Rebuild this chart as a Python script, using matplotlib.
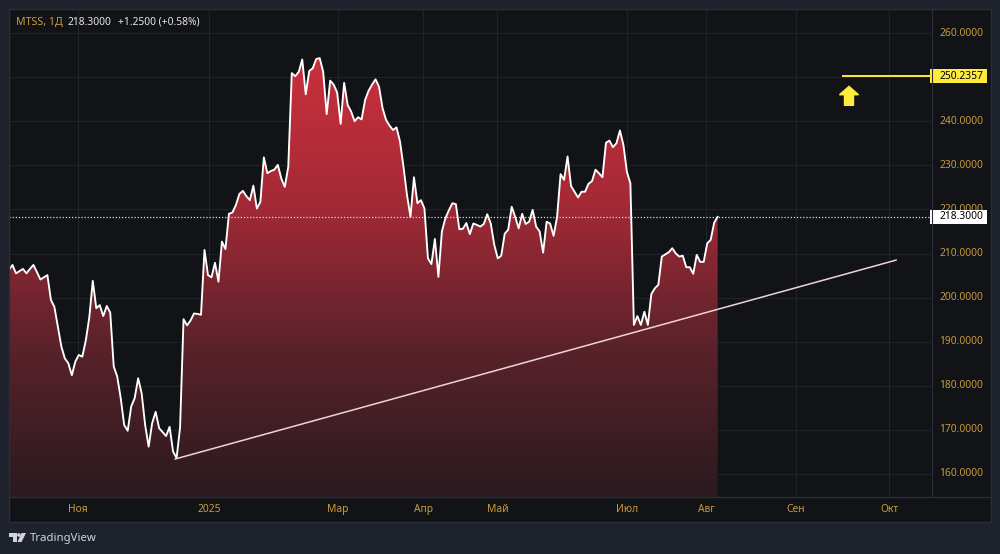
import numpy as np
import matplotlib
matplotlib.use("Agg")
import matplotlib.pyplot as plt
from matplotlib.colors import LinearSegmentedColormap
from matplotlib.patches import Rectangle, Polygon, Circle, FancyArrow

# ---------------- data (daily closes) ----------------
close = [
    206.3, 207.4, 205.5, 206.0, 206.5, 205.5, 206.5, 207.4, 205.8, 204.1,
    204.6, 205.1, 199.5, 197.9, 193.4, 188.9, 186.2, 185.1, 182.4, 185.5,
    187.0, 186.6, 190.3, 195.5, 203.8, 197.6, 198.3, 195.8, 198.1, 196.6,
    184.4, 182.1, 177.2, 171.1, 169.8, 175.3, 177.2, 181.7, 178.3, 171.1,
    166.2, 171.5, 174.1, 170.4, 169.5, 168.6, 170.7, 165.1, 163.6, 170.5,
    195.1, 193.7, 194.8, 196.4, 196.3, 196.1, 210.8, 205.1, 204.6, 207.9,
    203.6, 212.7, 211.0, 219.0, 219.3, 221.0, 223.5, 224.2, 223.0, 222.1,
    225.4, 220.2, 221.7, 231.8, 228.2, 228.7, 229.0, 230.1, 227.0, 225.1,
    229.7, 250.9, 250.2, 251.2, 254.0, 246.1, 251.4, 252.0, 254.1, 254.3,
    251.2, 241.6, 249.2, 248.3, 246.5, 239.4, 248.7, 243.7, 242.2, 240.0,
    240.9, 240.4, 244.8, 246.9, 248.3, 249.5, 247.8, 243.0, 240.3, 239.0,
    238.0, 238.6, 235.4, 229.7, 223.3, 218.3, 227.3, 221.4, 222.1, 220.2,
    208.9, 207.6, 213.3, 204.7, 215.0, 218.0, 219.8, 221.4, 221.2, 215.5,
    215.6, 216.9, 214.4, 216.8, 216.5, 216.1, 216.7, 218.9, 216.8, 212.0,
    208.9, 209.5, 214.5, 215.4, 220.6, 218.3, 215.7, 219.0, 216.7, 217.2,
    219.9, 216.1, 215.0, 210.2, 217.2, 216.8, 214.0, 218.3, 228.0, 226.7,
    232.0, 225.3, 224.0, 222.7, 224.0, 224.0, 225.8, 226.4, 229.0, 228.2,
    227.3, 235.1, 235.6, 234.1, 235.0, 237.9, 234.6, 228.5, 225.9, 193.8,
    195.8, 193.8, 196.8, 193.8, 200.8, 202.1, 202.9, 209.3, 209.8, 210.3,
    211.2, 210.0, 209.3, 209.5, 206.9, 206.9, 205.4, 209.7, 208.1, 208.1,
    212.3, 213.1, 217.0, 218.3,
]
tick_bars = [19.8, 57.3, 94.2, 118.6, 139.9, 177.0, 199.7, 225.4, 252.1]
tick_labels = ["Ноя", "2025", "Мар", "Апр", "Май", "Июл", "Авг", "Сен", "Окт"]
price_ticks = [160, 170, 180, 190, 200, 210, 220, 230, 240, 250, 260]
last_price = 218.3
target_price = 250.2357
trend_bars = [47.6, 254.1]
trend_vals = [163.4, 208.5]
target_line_bars = [239.0, 264.4]
header_symbol = "MTSS, 1Д"
header_last = "218.3000"
header_change = "+1.2500 (+0.58%)"

# ---------------- styling ----------------
W, H = 1000, 554
OUTER = "#1e222d"
PANE = "#111317"
GRID = "#1f2228"
BORDER = "#2a2e39"
GOLD = "#c99b3c"
FONT = "Noto Sans"
PX_PER_BAR = 3.491
PX_PER_UNIT = 4.41

fig = plt.figure(figsize=(W / 100, H / 100), dpi=100, facecolor=OUTER)


def rect(x0, y0, x1, y1):
    return [x0 / W, 1 - y1 / H, (x1 - x0) / W, (y1 - y0) / H]


ylim = (160 - (497 - 474) / PX_PER_UNIT, 160 + (474 - 9) / PX_PER_UNIT)
xlim = (0, (932 - 9) / PX_PER_BAR)

# main pane
ax = fig.add_axes(rect(9, 9, 932, 497))
ax.set_facecolor(PANE)
ax.set_xlim(*xlim)
ax.set_ylim(*ylim)
ax.set_xticks([])
ax.set_yticks([])
for s in ax.spines.values():
    s.set_visible(False)
for p in price_ticks:
    ax.axhline(p, color=GRID, lw=0.8, zorder=0)
for b in tick_bars:
    ax.axvline(b, color=GRID, lw=0.8, zorder=0)

bars = np.arange(len(close))
vals = np.array(close)

# gradient fill under the line
poly = ax.fill_between(bars, vals, ylim[0], color="none", lw=0)
cmap = LinearSegmentedColormap.from_list("tvred", ["#2a1a1f", "#5a222b", "#a52a36", "#cc303d"])
grad = np.linspace(0, 1, 256).reshape(-1, 1)
im = ax.imshow(grad, aspect="auto", cmap=cmap, origin="lower",
               extent=(0, bars[-1], ylim[0], 256), zorder=1)
path = poly.get_paths()[0]
im.set_clip_path(path, transform=ax.transData)

ax.plot(bars, vals, color="white", lw=1.35, zorder=3, solid_joinstyle="round")

# trend line
ax.plot(trend_bars, trend_vals, color="#efd3d9", lw=1.1, zorder=4)

# last price dotted line
ax.axhline(last_price, color="#d8d8d8", lw=0.9, ls=(0, (1, 1.5)), zorder=2)

# target line & arrow
ax.plot(target_line_bars, [target_price, target_price], color="#ffeb3b", lw=1.4, zorder=4,
        clip_on=False)
arrow_bar = (849 - 9) / PX_PER_BAR
ax.add_patch(FancyArrow(arrow_bar, 243.6, 0, 4.3 - 1.9,
                        width=9 / PX_PER_BAR, head_width=19 / PX_PER_BAR,
                        head_length=1.9, length_includes_head=False,
                        color="#ffeb3b", zorder=5))

# price axis
axp = fig.add_axes(rect(932, 9, 991, 497))
axp.set_facecolor(PANE)
axp.set_xlim(0, 59)
axp.set_ylim(*ylim)
axp.set_xticks([])
axp.set_yticks([])
for s in axp.spines.values():
    s.set_visible(False)
for p in price_ticks:
    axp.text(7, p, f"{p:.4f}", color=GOLD, fontsize=7.4, family=FONT,
             ha="left", va="center")

for val, fc in [(last_price, "white"), (target_price, "#ffeb3b")]:
    h = 7.2 / PX_PER_UNIT
    axp.add_patch(Rectangle((-2, val - h), 57, 2 * h, facecolor=fc, edgecolor="none",
                            zorder=5, clip_on=False))
    axp.text(7, val, f"{val:.4f}", color="black", fontsize=7.4, family=FONT,
             ha="left", va="center", zorder=6)

# time axis
axt = fig.add_axes(rect(9, 497, 991, 522))
axt.set_facecolor(PANE)
axt.set_xlim(0, (991 - 9) / PX_PER_BAR)
axt.set_ylim(0, 1)
axt.set_xticks([])
axt.set_yticks([])
for s in axt.spines.values():
    s.set_visible(False)
for b, lab in zip(tick_bars, tick_labels):
    axt.text(b, 0.5, lab, color=GOLD, fontsize=7.4, family=FONT, ha="center", va="center",
             fontweight="bold" if lab.isdigit() else "normal")

# overlay in pixel coordinates for frame / header / logo
ov = fig.add_axes([0, 0, 1, 1], facecolor="none")
ov.set_xlim(0, W)
ov.set_ylim(H, 0)
ov.axis("off")
ov.add_patch(Rectangle((9, 9), 982, 513, fill=False, edgecolor=BORDER, lw=1))
ov.plot([9, 991], [497, 497], color=BORDER, lw=1)
ov.plot([932, 932], [9, 497], color=BORDER, lw=0.8)

ov.text(16, 22.5, header_symbol, color=GOLD, fontsize=7.6, family=FONT, va="center", ha="left")
ov.text(68, 22.5, header_last, color="#e6e6e6", fontsize=7.4, family=FONT, va="center",
        ha="left", fontweight="bold")
ov.text(118, 22.5, header_change, color="#e6e6e6", fontsize=7.4, family=FONT, va="center",
        ha="left", fontweight="bold")

LOGO = "#d1d4dc"
ov.add_patch(Polygon([(9, 533), (16.5, 533), (16.5, 542), (12.5, 542), (12.5, 536.5), (9, 536.5)],
                     closed=True, color=LOGO, lw=0))
ov.add_patch(Circle((18.9, 535), 1.8, color=LOGO, lw=0))
ov.add_patch(Polygon([(21.5, 533), (26, 533), (21.5, 542), (17.5, 542)], closed=True,
                     color=LOGO, lw=0))
ov.text(30, 538, "TradingView", color=LOGO, fontsize=8.2, family=FONT, va="center", ha="left")

fig.savefig("out.png", dpi=100, facecolor=OUTER)
